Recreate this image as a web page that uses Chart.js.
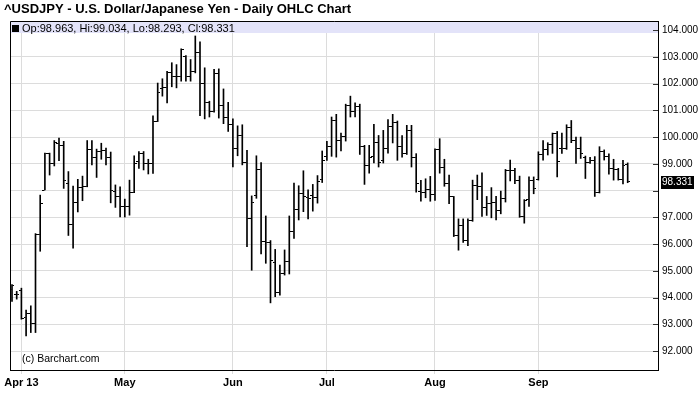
<!DOCTYPE html>
<html>
<head>
<meta charset="utf-8">
<script src="https://cdn.jsdelivr.net/npm/chart.js@4.4.1/dist/chart.umd.min.js"></script>
<style>
html, body { margin: 0; padding: 0; background: #fff; }
#wrap { width: 700px; height: 411px; }
</style>
</head>
<body>
<div id="wrap"><canvas id="ohlcChart" width="700" height="411"></canvas></div>
<script>
// daily bars, Mar 28 2013 .. Sep 27 2013 (index = trading day)
var opens  = [94.30,94.12,94.25,93.25,93.41,93.02,96.36,98.02,99.37,99.02,99.77,99.67,98.27,96.74,97.54,98.12,98.14,99.52,99.25,99.46,
              99.50,99.25,97.96,97.77,97.42,97.42,97.92,99.08,99.40,99.02,99.00,100.58,101.80,101.84,102.40,102.25,102.25,103.00,102.25,102.46,
              103.15,102.02,101.30,100.96,102.38,101.18,100.75,100.46,99.59,100.05,99.05,96.96,97.80,98.78,96.09,96.05,95.30,94.18,94.90,95.34,
              96.46,97.28,97.90,97.75,97.81,97.75,98.40,99.28,99.65,100.63,99.88,100.03,101.19,100.94,101.15,99.66,98.94,99.28,99.81,99.12,
              99.56,100.40,100.53,99.65,99.38,100.23,99.25,97.98,97.94,98.03,97.85,99.53,98.86,98.26,97.76,96.31,96.69,96.13,96.88,98.20,
              98.14,97.36,97.53,97.57,97.26,97.70,98.74,98.74,98.39,97.02,97.66,98.36,98.41,99.33,99.54,99.74,100.12,99.58,99.58,100.37,
              99.87,99.58,99.25,99.04,99.14,97.91,99.45,99.27,98.83,98.79,98.42,98.963];
var highs  = [94.48,94.23,94.35,93.53,93.69,96.39,97.83,99.40,99.40,99.87,99.96,99.84,98.71,98.17,98.42,98.54,99.87,99.87,99.55,99.77,
              99.59,99.44,98.21,98.14,97.68,98.39,99.30,99.46,99.46,99.17,100.79,102.02,102.18,102.46,102.78,102.71,103.30,103.05,102.90,103.78,
              103.56,102.59,101.34,102.53,102.55,101.80,101.30,100.68,100.42,100.46,99.50,97.80,99.30,99.05,97.05,96.13,95.80,95.21,95.78,97.05,
              98.28,98.18,98.74,98.03,98.23,98.56,99.48,99.84,100.75,100.85,100.15,101.23,101.53,101.28,101.23,99.69,99.69,100.48,100.06,100.25,
              100.65,100.85,100.60,100.06,100.44,100.44,99.38,98.38,98.44,98.53,99.56,99.94,99.17,98.58,97.78,96.94,96.94,96.94,98.39,98.58,
              98.66,97.78,98.11,97.78,97.98,98.79,99.14,98.83,98.54,97.66,98.51,98.51,99.45,99.87,99.79,100.15,100.21,100.15,100.46,100.62,
              100.00,100.00,99.29,99.24,99.27,99.64,99.52,99.37,99.17,98.83,99.13,99.034];
var lows   = [93.85,93.94,93.19,92.56,92.69,92.69,95.73,98.02,98.58,98.92,99.12,98.08,96.32,95.85,97.20,97.62,98.14,98.96,98.49,99.17,
              98.96,97.54,97.37,97.01,97.01,97.08,97.92,98.83,98.77,98.62,98.64,100.58,101.53,101.28,101.88,101.84,102.09,102.09,102.09,102.40,
              100.80,100.68,100.75,100.93,100.71,100.50,100.21,98.88,99.30,98.96,95.90,95.02,97.71,95.63,95.28,93.80,94.03,94.09,94.84,94.88,
              96.21,96.90,97.21,96.94,97.23,97.53,98.30,99.13,99.28,99.25,99.48,99.85,100.75,100.75,99.35,98.23,98.65,99.03,98.88,99.03,
              99.40,99.78,99.13,99.25,99.35,98.88,97.94,97.60,97.73,97.60,97.63,98.65,98.16,97.51,96.28,95.77,96.06,95.94,96.85,97.66,
              97.03,97.07,96.98,96.90,97.13,97.57,98.36,98.26,97.00,96.78,97.41,97.88,98.39,99.14,99.33,99.39,98.51,99.39,99.54,99.79,
              99.01,99.20,98.45,99.01,97.78,97.91,99.14,98.61,98.39,98.39,98.25,98.293];
var closes = [94.45,94.10,93.23,93.41,93.02,96.36,97.52,99.37,99.02,99.80,99.67,98.37,96.74,97.54,98.12,98.14,99.52,99.25,99.46,99.50,
              99.25,98.02,97.77,97.42,97.42,97.92,99.02,99.40,99.02,99.00,100.58,101.65,101.84,102.40,102.25,102.25,103.27,102.25,102.46,103.15,
              102.02,101.30,100.96,102.38,101.18,100.75,100.46,99.59,100.05,99.05,96.96,97.55,98.78,96.09,96.05,95.40,94.18,94.90,95.34,96.46,
              97.28,97.90,97.78,97.69,97.75,98.34,99.13,99.65,100.63,99.88,100.03,101.19,100.94,101.15,99.66,98.94,99.23,99.81,99.06,99.56,
              100.40,100.53,99.65,99.38,100.23,99.25,98.25,97.94,98.03,97.85,99.53,98.85,98.26,97.76,96.31,96.69,96.13,96.88,98.20,98.14,
              97.36,97.53,97.57,97.26,97.70,98.74,98.74,98.39,97.02,97.62,98.36,98.07,99.33,99.54,99.74,100.12,99.08,99.58,100.37,99.87,
              99.58,99.37,99.04,99.14,97.91,99.45,99.27,98.83,98.79,98.41,98.95,98.331];

// x axis: trading-day index of each month start, and its label
var monthTicks  = [2, 24, 47, 67, 90, 112];
var monthLabels = ['Apr 13', 'May', 'Jun', 'Jul', 'Aug', 'Sep'];
var priceTicks  = [92, 93, 94, 95, 96, 97, 98, 99, 100, 101, 102, 103, 104];

var titleText = '^USDJPY - U.S. Dollar/Japanese Yen - Daily OHLC Chart';
var last = closes.length - 1;

function fmt(v) { return v.toFixed(3); }

// little tick images for open (left) and close (right)
function makeTick(side) {
    var c = document.createElement('canvas');
    c.width = 5; c.height = 1;
    var g = c.getContext('2d');
    g.fillStyle = '#000';
    g.fillRect(side === 'left' ? 0 : 3, 0, 2, 1);
    return c;
}

var decor = {
    id: 'decor',
    beforeDatasetsDraw: function (chart) {
        var ctx = chart.ctx, a = chart.chartArea;
        ctx.save();
        ctx.fillStyle = '#e3e3f9';
        ctx.fillRect(a.left, a.top, a.right - a.left, 12);
        ctx.restore();
    },
    afterDraw: function (chart) {
        var ctx = chart.ctx, a = chart.chartArea, ys = chart.scales.y;
        ctx.save();

        // frame (left + top)
        ctx.strokeStyle = '#000';
        ctx.lineWidth = 1;
        ctx.beginPath();
        ctx.moveTo(a.left + 0.5, a.bottom);
        ctx.lineTo(a.left + 0.5, a.top + 0.5);
        ctx.lineTo(a.right, a.top + 0.5);
        ctx.stroke();

        // inward ticks on the price axis
        ctx.strokeStyle = '#333';
        ys.ticks.forEach(function (t) {
            var py = Math.round(ys.getPixelForValue(t.value)) + 0.5;
            ctx.beginPath();
            ctx.moveTo(a.right - 5, py);
            ctx.lineTo(a.right, py);
            ctx.stroke();
        });

        // title
        ctx.fillStyle = '#000';
        ctx.textBaseline = 'alphabetic';
        ctx.font = 'bold 13px "Liberation Sans", Arial, sans-serif';
        ctx.fillText(titleText, 4, 13);

        // legend line
        ctx.fillRect(12, 25, 7, 7);
        ctx.font = '11px "Liberation Sans", Arial, sans-serif';
        ctx.fillText('Op:' + fmt(opens[last]) + ', Hi:' + fmt(highs[last]) +
                     ', Lo:' + fmt(lows[last]) + ', Cl:' + fmt(closes[last]), 22, 32);

        // watermark
        ctx.font = '10.5px "Liberation Sans", Arial, sans-serif';
        ctx.fillText('(c) Barchart.com', 22, 362);

        // last price box
        var ly = ys.getPixelForValue(closes[last]);
        ctx.fillStyle = '#000';
        ctx.fillRect(a.right + 3, Math.round(ly) - 6, 33, 13);
        ctx.fillStyle = '#fff';
        ctx.font = '10px "Liberation Sans", Arial, sans-serif';
        ctx.textBaseline = 'middle';
        ctx.fillText(fmt(closes[last]), a.right + 4, Math.round(ly) + 0.5);
        ctx.restore();
    }
};

var ctx = document.getElementById('ohlcChart').getContext('2d');
var ohlcChart = new Chart(ctx, {
    type: 'bar',
    data: {
        datasets: [{
            type: 'bar',
            data: highs.map(function (h, i) { return { x: i, y: [lows[i], h] }; }),
            backgroundColor: '#000',
            borderWidth: 0,
            barThickness: 1,
            grouped: false
        }, {
            type: 'scatter',
            data: opens.map(function (o, i) { return { x: i, y: o }; }),
            pointStyle: makeTick('left'),
            pointRadius: 3
        }, {
            type: 'scatter',
            data: closes.map(function (c, i) { return { x: i, y: c }; }),
            pointStyle: makeTick('right'),
            pointRadius: 3
        }]
    },
    options: {
        responsive: false,
        devicePixelRatio: 1,
        animation: false,
        layout: { padding: { top: 21, left: 10, right: 0, bottom: 0 } },
        plugins: { legend: { display: false }, tooltip: { enabled: false } },
        scales: {
            x: {
                type: 'linear',
                offset: false,
                min: -0.4255,
                max: 137.45,
                afterBuildTicks: function (s) {
                    s.ticks = monthTicks.map(function (v) { return { value: v }; });
                },
                afterFit: function (s) { s.height = 41; },
                grid: { color: '#dcdcdc', offset: false, drawTicks: true, tickLength: 4, tickColor: '#dcdcdc' },
                border: { display: true, color: '#000', width: 1 },
                ticks: {
                    autoSkip: false,
                    maxRotation: 0,
                    padding: 2,
                    color: '#000',
                    font: { family: '"Liberation Sans", Arial, sans-serif', size: 11, weight: 'bold' },
                    callback: function (v) {
                        var k = monthTicks.indexOf(v);
                        return k < 0 ? '' : monthLabels[k];
                    }
                }
            },
            y: {
                position: 'right',
                min: 91.29,
                max: 104.34,
                afterBuildTicks: function (s) {
                    s.ticks = priceTicks.map(function (v) { return { value: v }; });
                },
                afterFit: function (s) { s.width = 42; },
                grid: { color: '#dcdcdc', drawTicks: false },
                border: { display: true, color: '#000', width: 1 },
                ticks: {
                    padding: 4,
                    color: '#000',
                    font: { family: '"Liberation Sans", Arial, sans-serif', size: 10 },
                    callback: function (v) {
                        if (Math.abs(v - closes[last]) < 0.45) return '';
                        return fmt(v);
                    }
                }
            }
        }
    },
    plugins: [decor]
});
</script>
</body>
</html>
